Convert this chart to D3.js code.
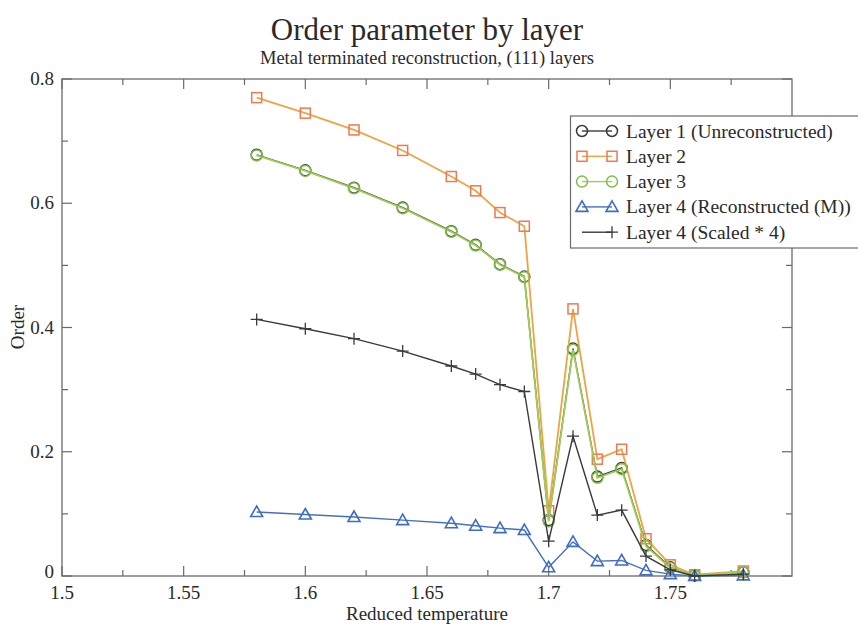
<!DOCTYPE html>
<html>
<head>
<meta charset="utf-8">
<script src="https://cdn.jsdelivr.net/npm/d3@7/dist/d3.min.js"></script>
<style>
  html, body { margin: 0; padding: 0; background: #fff; }
  svg { display: block; }
  text { font-family: "Liberation Serif", "Times New Roman", serif; fill: #2a2a2a; }
</style>
</head>
<body>
<svg id="chart" width="858" height="628"></svg>
<script>
// ---- data ----
const temps  = [1.58, 1.60, 1.62, 1.64, 1.66, 1.67, 1.68, 1.69, 1.70, 1.71, 1.72, 1.73, 1.74, 1.75, 1.76, 1.78];
const layer1 = [0.678, 0.653, 0.625, 0.593, 0.555, 0.533, 0.502, 0.482, 0.090, 0.366, 0.160, 0.174, 0.050, 0.014, 0.001, 0.006];
const layer2 = [0.770, 0.745, 0.718, 0.685, 0.643, 0.620, 0.585, 0.563, 0.105, 0.430, 0.188, 0.204, 0.060, 0.018, 0.002, 0.008];
const layer3 = [0.677, 0.652, 0.624, 0.592, 0.554, 0.532, 0.501, 0.481, 0.088, 0.364, 0.158, 0.172, 0.048, 0.013, 0.001, 0.006];
const layer4 = [0.103, 0.099, 0.095, 0.090, 0.085, 0.081, 0.077, 0.074, 0.014, 0.055, 0.024, 0.025, 0.009, 0.003, 0.000, 0.001];
const layer4Scaled = [0.413, 0.398, 0.382, 0.362, 0.338, 0.325, 0.308, 0.297, 0.056, 0.225, 0.098, 0.106, 0.032, 0.010, 0.000, 0.003];

const seriesNames = ["Layer 1 (Unreconstructed)", "Layer 2", "Layer 3", "Layer 4 (Reconstructed (M))", "Layer 4 (Scaled * 4)"];
const xTicks = [1.5, 1.55, 1.6, 1.65, 1.7, 1.75];
const xTickLabels = ["1.5", "1.55", "1.6", "1.65", "1.7", "1.75"];
const yTicks = [0, 0.2, 0.4, 0.6, 0.8];
const yTickLabels = ["0", "0.2", "0.4", "0.6", "0.8"];
const titleText = "Order parameter by layer";
const subtitleText = "Metal terminated reconstruction, (111) layers";
const xLabelText = "Reduced temperature";
const yLabelText = "Order";

// ---- layout ----
const svg = d3.select("#chart");
const L = 62, R = 792, T = 79, B = 576;
const x = d3.scaleLinear().domain([1.5, 1.8]).range([L, R]);
const y = d3.scaleLinear().domain([0, 0.8]).range([B, T]);

const styles = [
  { line: "#3a3a3a", mark: "#3a3a3a", sym: "circle" },
  { line: "#eba544", mark: "#ec7a52", sym: "square" },
  { line: "#a2cc58", mark: "#7fbf45", sym: "circle" },
  { line: "#4470c0", mark: "#3f6cc4", sym: "triangle" },
  { line: "#3a3a3a", mark: "#3a3a3a", sym: "plus" }
];
const allSeries = [layer1, layer2, layer3, layer4, layer4Scaled];

// ---- titles ----
svg.append("text").attr("x", 427).attr("y", 40).attr("text-anchor", "middle")
  .attr("font-size", 31).text(titleText);
svg.append("text").attr("x", 427).attr("y", 64).attr("text-anchor", "middle")
  .attr("font-size", 18.5).text(subtitleText);

// ---- frame + ticks ----
const axisCol = "#6a6a6a";
const g = svg.append("g");
g.append("rect").attr("x", L).attr("y", T).attr("width", R - L).attr("height", B - T)
  .attr("fill", "none").attr("stroke", axisCol).attr("stroke-width", 1.3);

const xMinor = [1.525, 1.575, 1.625, 1.675, 1.725, 1.775];
const yMinor = [0.1, 0.3, 0.5, 0.7];
const tk = g.append("g").attr("stroke", axisCol).attr("stroke-width", 1.2);
xTicks.forEach(v => {
  tk.append("line").attr("x1", x(v)).attr("x2", x(v)).attr("y1", B).attr("y2", B - 10);
  tk.append("line").attr("x1", x(v)).attr("x2", x(v)).attr("y1", T).attr("y2", T + 10);
});
xMinor.forEach(v => {
  tk.append("line").attr("x1", x(v)).attr("x2", x(v)).attr("y1", B).attr("y2", B - 6);
  tk.append("line").attr("x1", x(v)).attr("x2", x(v)).attr("y1", T).attr("y2", T + 6);
});
yTicks.forEach(v => {
  tk.append("line").attr("x1", L).attr("x2", L + 10).attr("y1", y(v)).attr("y2", y(v));
  tk.append("line").attr("x1", R).attr("x2", R - 10).attr("y1", y(v)).attr("y2", y(v));
});
yMinor.forEach(v => {
  tk.append("line").attr("x1", L).attr("x2", L + 6).attr("y1", y(v)).attr("y2", y(v));
  tk.append("line").attr("x1", R).attr("x2", R - 6).attr("y1", y(v)).attr("y2", y(v));
});

xTicks.forEach((v, i) => {
  g.append("text").attr("x", x(v)).attr("y", B + 23).attr("text-anchor", "middle")
    .attr("font-size", 19).text(xTickLabels[i]);
});
yTicks.forEach((v, i) => {
  g.append("text").attr("x", L - 8).attr("y", y(v) + (v === 0 ? 2 : 6)).attr("text-anchor", "end")
    .attr("font-size", 19).text(yTickLabels[i]);
});
svg.append("text").attr("x", 427).attr("y", 620).attr("text-anchor", "middle")
  .attr("font-size", 19).text(xLabelText);
svg.append("text").attr("transform", "translate(24," + 327 + ") rotate(-90)")
  .attr("text-anchor", "middle").attr("font-size", 19).text(yLabelText);

// ---- markers ----
function drawMarker(sel, cx, cy, st) {
  if (st.sym === "circle") {
    sel.append("circle").attr("cx", cx).attr("cy", cy).attr("r", 5.5)
      .attr("fill", "none").attr("stroke", st.mark).attr("stroke-width", 1.5);
  } else if (st.sym === "square") {
    sel.append("rect").attr("x", cx - 5).attr("y", cy - 5).attr("width", 10).attr("height", 10)
      .attr("fill", "none").attr("stroke", st.mark).attr("stroke-width", 1.5);
  } else if (st.sym === "triangle") {
    const s = 6;
    sel.append("path").attr("d", `M${cx},${cy - s}L${cx + s},${cy + s * 0.75}L${cx - s},${cy + s * 0.75}Z`)
      .attr("fill", "none").attr("stroke", st.mark).attr("stroke-width", 1.6);
  } else {
    sel.append("path").attr("d", `M${cx - 6},${cy}H${cx + 6}M${cx},${cy - 6}V${cy + 6}`)
      .attr("stroke", st.mark).attr("stroke-width", 1.3);
  }
}

// ---- series ----
const lineGen = d3.line().x(d => x(d[0])).y(d => y(d[1]));
allSeries.forEach((vals, i) => {
  const st = styles[i];
  const pts = temps.map((t, j) => [t, vals[j]]);
  const sg = svg.append("g");
  sg.append("path").attr("d", lineGen(pts)).attr("fill", "none")
    .attr("stroke", st.line).attr("stroke-width", i === 1 || i === 2 ? 1.8 : 1.4);
  pts.forEach(p => drawMarker(sg, x(p[0]), y(p[1]), st));
});

// ---- legend ----
const lg = svg.append("g");
lg.append("rect").attr("x", 570.5).attr("y", 116).attr("width", 300).attr("height", 132)
  .attr("fill", "#fff").attr("stroke", axisCol).attr("stroke-width", 1.2);
seriesNames.forEach((name, i) => {
  const st = styles[i];
  const cy = 131 + i * 25.3;
  lg.append("line").attr("x1", 582).attr("x2", 612).attr("y1", cy).attr("y2", cy)
    .attr("stroke", st.line).attr("stroke-width", 1.4);
  if (st.sym !== "plus") drawMarker(lg, 582, cy, st);
  drawMarker(lg, 612, cy, st);
  lg.append("text").attr("x", 626).attr("y", cy + 6.5).attr("font-size", 19.5).text(name);
});
</script>
</body>
</html>
